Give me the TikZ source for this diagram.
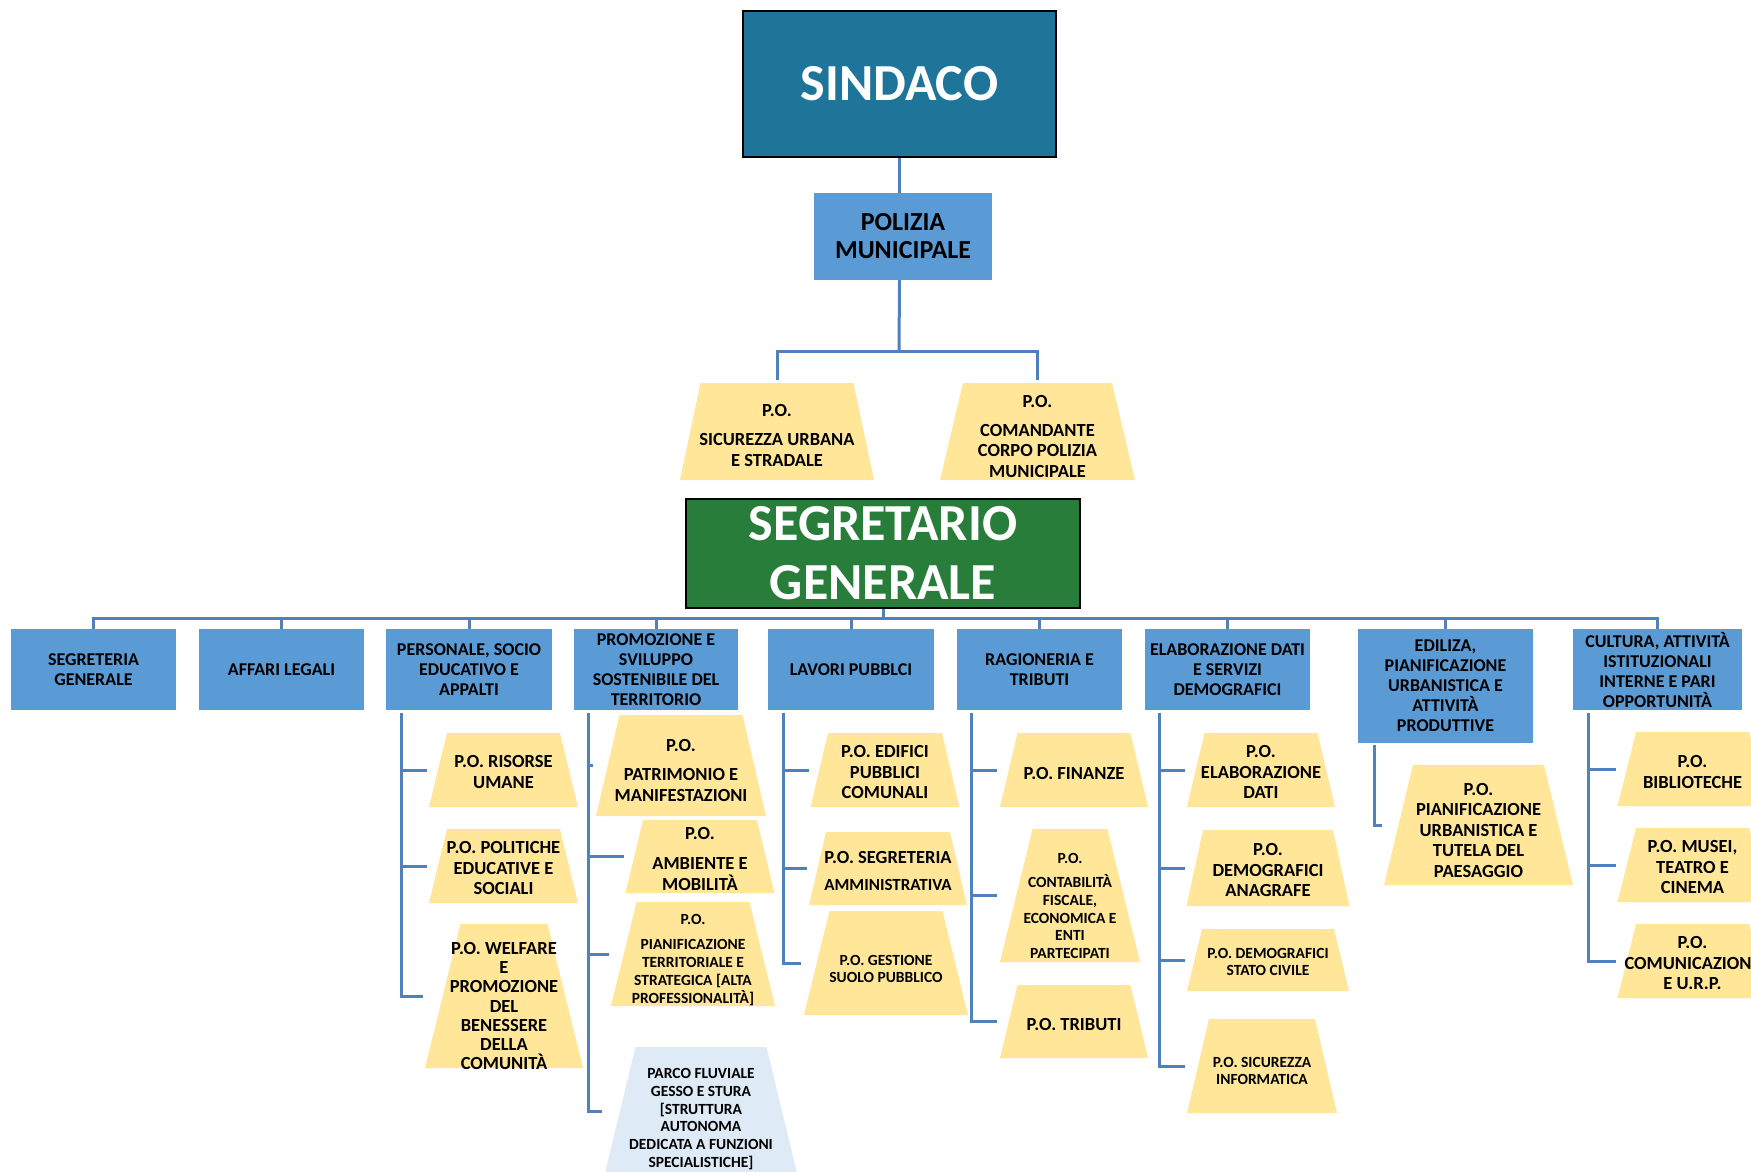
\documentclass[tikz,border=0pt]{standalone}
\usepackage{fontspec}
\setmainfont{Carlito}
\usetikzlibrary{calc}
\definecolor{sindB}{RGB}{31,117,153}
\definecolor{boxB}{RGB}{91,155,213}
\definecolor{segG}{RGB}{41,125,58}
\definecolor{trapY}{RGB}{255,230,153}
\definecolor{parcoB}{RGB}{222,235,247}
\definecolor{lineB}{RGB}{79,129,189}
\newcommand\trapcol{trapY}
% name, cx, ytop, ybot, topw, botw, text y, style, text
\newcommand\trap[9]{%
  \fill[fill=\trapcol] ({#2-#6/2},#4) -- ({#2-#5/2},#3) -- ({#2+#5/2},#3) -- ({#2+#6/2},#4) -- cycle;
  \coordinate (#1-top) at (#2,#3);
  \coordinate (#1-mid) at (#2,{(#3+#4)/2});
  \node[#8] (#1) at (#2,#7) {#9};
}
\begin{document}
\begin{tikzpicture}[x=1pt,y=-1pt,
  conn/.style={draw=lineB, line width=3pt},
  dept/.style={fill=boxB, minimum height=81pt, inner sep=0pt, align=center, font=\fontsize{18}{20}\selectfont\bfseries},
  tA/.style={align=center, inner sep=0pt, font=\fontsize{18.5}{20.5}\selectfont\bfseries},
  tW/.style={align=center, inner sep=0pt, font=\fontsize{18.5}{19.2}\selectfont\bfseries},
  tB/.style={align=center, inner sep=0pt, font=\fontsize{15.5}{17.7}\selectfont\bfseries},
  bigbox/.style={draw=black, line width=2.5pt, inner sep=0pt, text=white, align=center, font=\fontsize{52}{59}\selectfont\bfseries}]
\useasboundingbox (0,0) rectangle (1751,1171);
\fill[white] (0,0) rectangle (1751,1171);
\clip (0,0) rectangle (1751,1171);

% top
\node[bigbox, fill=sindB, minimum width=313pt, minimum height=146pt] (sindaco) at (899.5,84) {SINDACO};
\node[fill=boxB, minimum width=178pt, minimum height=87pt, inner sep=0pt, align=center, font=\fontsize{26}{28}\selectfont\bfseries] (polizia) at (903,236.5) {POLIZIA\\MUNICIPALE};

\trap{sicur}{777}{383}{480}{153}{194}{435.5}{tA}{P.O.\\[8.5pt]SICUREZZA URBANA\\E STRADALE}
\trap{coman}{1037.5}{383}{480}{149}{195}{436}{tA}{P.O.\\[8.5pt]COMANDANTE\\CORPO POLIZIA\\MUNICIPALE}

\coordinate (pj) at (899,351);
\draw[conn] (sindaco.south) -- (sindaco.south |- polizia.north);
\draw[conn] (sindaco.south |- polizia.south) -- (pj);
\draw[conn] (pj) -| ($(sicur-top)+(0,-3)$);
\draw[conn] (pj) -| ($(coman-top)+(0,-3)$);

\node[bigbox, fill=segG, minimum width=394pt, minimum height=109pt] (segr) at (883,553.5) {SEGRETARIO\\GENERALE};

% departments
\node[dept, minimum width=165pt] (segen) at (93.5,669.5) {SEGRETERIA\\GENERALE};
\node[dept, minimum width=165pt] (affari) at (281.5,669.5) {AFFARI LEGALI};
\node[dept, minimum width=166pt] (pers) at (469,669.5) {PERSONALE, SOCIO\\EDUCATIVO E\\APPALTI};
\node[dept, minimum width=164pt] (promo) at (656,669.5) {PROMOZIONE E\\SVILUPPO\\SOSTENIBILE DEL\\TERRITORIO};
\node[dept, minimum width=166pt] (lavori) at (851,669.5) {LAVORI PUBBLCI};
\node[dept, minimum width=165pt] (ragio) at (1039.5,669.5) {RAGIONERIA E\\TRIBUTI};
\node[dept, minimum width=165pt] (elab) at (1227.5,669.5) {ELABORAZIONE DATI\\E SERVIZI\\DEMOGRAFICI};
\node[dept, minimum width=175pt, minimum height=114pt] (edil) at (1445.5,686) {EDILIZA,\\PIANIFICAZIONE\\URBANISTICA E\\ATTIVITÀ\\PRODUTTIVE};
\node[dept, minimum width=169pt] (cult) at (1657.5,669.5) {CULTURA, ATTIVITÀ\\ISTITUZIONALI\\INTERNE E PARI\\OPPORTUNITÀ};

\coordinate (bus) at (883,618);
\draw[conn] (segr.south) -- (bus);
\foreach \d in {segen,affari,pers,promo,lavori,ragio,elab,edil,cult}
  \draw[conn] (bus) -| (\d.north);

% P.O. boxes
\trap{risorse}{503.5}{733}{807}{113}{149}{772}{tA}{P.O. RISORSE\\UMANE}
\trap{politiche}{503.5}{829}{903}{113}{149}{868}{tA}{P.O. POLITICHE\\EDUCATIVE E\\SOCIALI}
\trap{welfare}{504}{924}{1068}{87}{158}{1006}{tW}{P.O. WELFARE\\E\\PROMOZIONE\\DEL\\BENESSERE\\DELLA\\COMUNITÀ}

\trap{patrim}{681}{715}{816}{123}{170}{770.5}{tA}{P.O.\\[8.5pt]PATRIMONIO E\\MANIFESTAZIONI}
\trap{ambiente}{700}{820}{893}{114}{149}{859}{tA}{P.O.\\[9.5pt]AMBIENTE E\\MOBILITÀ}
\trap{pianter}{693}{902}{1006}{113}{164}{960}{tB}{P.O.\\[7.3pt]PIANIFICAZIONE\\TERRITORIALE E\\STRATEGICA [ALTA\\PROFESSIONALITÀ]}
\renewcommand\trapcol{parcoB}
\trap{parco}{701}{1047}{1175}{131}{193}{1119}{tB}{PARCO FLUVIALE\\GESSO E STURA\\{[}STRUTTURA\\AUTONOMA\\DEDICATA A FUNZIONI\\SPECIALISTICHE]}
\renewcommand\trapcol{trapY}

\trap{edifici}{885}{733}{807}{114}{149}{772}{tA}{P.O. EDIFICI\\PUBBLICI\\COMUNALI}
\trap{segamm}{888}{832}{905}{124}{158}{871}{tA}{P.O. SEGRETERIA\\[6.5pt]{\fontsize{17}{18}\selectfont AMMINISTRATIVA}}
\trap{gestione}{886}{911}{1015}{113}{164}{969}{tB}{P.O. GESTIONE\\SUOLO PUBBLICO}

\trap{finanze}{1074}{733}{807}{113}{148}{773}{tA}{P.O. FINANZE}
\trap{contab}{1070}{829}{962}{75}{140}{906}{tB}{P.O.\\[6.3pt]CONTABILITÀ\\FISCALE,\\ECONOMICA E\\ENTI\\PARTECIPATI}
\trap{tributi}{1074}{985}{1058}{113}{148}{1024}{tA}{P.O. TRIBUTI}

\trap{elabdati}{1261}{733}{807}{113}{148}{772}{tA}{P.O.\\ELABORAZIONE\\DATI}
\trap{anagrafe}{1268}{830}{906}{130}{163}{870}{tA}{P.O.\\DEMOGRAFICI\\ANAGRAFE}
\trap{statociv}{1268}{929}{991}{132}{162}{962}{tB}{P.O. DEMOGRAFICI\\STATO CIVILE}
\trap{sicinf}{1262}{1019}{1113}{106}{150}{1071}{tB}{P.O. SICUREZZA\\INFORMATICA}

\trap{pianurb}{1478.5}{765}{885}{131}{189}{830}{tA}{P.O.\\PIANIFICAZIONE\\URBANISTICA E\\TUTELA DEL\\PAESAGGIO}

\trap{biblio}{1692.5}{732}{806}{113}{150}{772}{tA}{P.O.\\BIBLIOTECHE}
\trap{musei}{1692.5}{828}{902}{113}{150}{867}{tA}{P.O. MUSEI,\\TEATRO E\\CINEMA}
\trap{comunic}{1692.5}{924}{998}{113}{150}{963}{tA}{P.O.\\COMUNICAZIONE\\E U.R.P.}

% spines
\coordinate (persS) at ($(pers.south west)+(16,3)$);
\coordinate (promoS) at ($(promo.south west)+(15,3)$);
\coordinate (lavoriS) at ($(lavori.south west)+(16,3)$);
\coordinate (ragioS) at ($(ragio.south west)+(15,3)$);
\coordinate (elabS) at ($(elab.south west)+(15,3)$);
\coordinate (edilS) at ($(edil.south west)+(17,2)$);
\coordinate (cultS) at ($(cult.south west)+(16,3)$);

\foreach \c/\l in {risorse/25,politiche/25,welfare/21}
  \draw[conn] (persS) |- ($(persS |- \c-mid)+(\l,0)$);
\foreach \c/\l in {patrim/4,ambiente/35,pianter/20,parco/13}
  \draw[conn] (promoS) |- ($(promoS |- \c-mid)+(\l,0)$);
\foreach \c/\l in {edifici/25,segamm/23,gestione/17}
  \draw[conn] (lavoriS) |- ($(lavoriS |- \c-mid)+(\l,0)$);
\foreach \c/\l in {finanze/25,contab/25,tributi/25}
  \draw[conn] (ragioS) |- ($(ragioS |- \c-mid)+(\l,0)$);
\foreach \c/\l in {elabdati/25,anagrafe/25,statociv/25,sicinf/25}
  \draw[conn] (elabS) |- ($(elabS |- \c-mid)+(\l,0)$);
\draw[conn] (edilS) |- ($(edilS |- pianurb-mid)+(7,0)$);
\foreach \c/\l in {biblio/27,musei/27,comunic/27}
  \draw[conn] (cultS) |- ($(cultS |- \c-mid)+(\l,0)$);
\end{tikzpicture}
\end{document}
